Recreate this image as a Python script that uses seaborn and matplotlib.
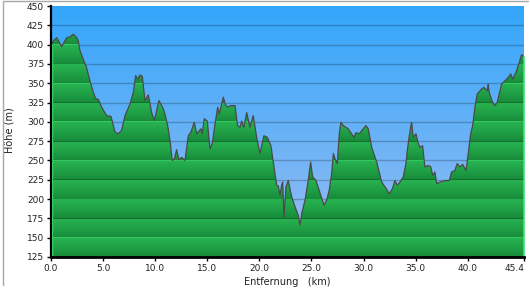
import numpy as np
import matplotlib
matplotlib.use("Agg")
import matplotlib.pyplot as plt
import seaborn as sns
from matplotlib.patches import PathPatch
from matplotlib.lines import Line2D
from matplotlib.colors import to_rgb

# ---- data ----
dist_km = [0.0, 0.3, 0.55, 1.03, 1.5, 1.82, 2.14, 2.46, 2.62, 2.78, 3.1, 3.42, 3.74, 4.06, 4.29,
           4.54, 4.86, 5.34, 5.76, 6.14, 6.46, 6.78, 7.1, 7.58, 7.9, 8.13, 8.32, 8.54, 8.76, 9.02,
           9.34, 9.66, 9.92, 10.14, 10.36, 10.78, 10.94, 11.2, 11.42, 11.64, 11.84, 12.06, 12.28,
           12.54, 12.86, 13.18, 13.44, 13.75, 13.98, 14.14, 14.4, 14.52, 14.71, 15.0, 15.26, 15.48,
           15.74, 16.0, 16.15, 16.38, 16.54, 16.76, 17.02, 17.24, 17.66, 17.91, 18.14, 18.3, 18.52,
           18.78, 19.1, 19.41, 19.74, 20.06, 20.44, 20.76, 21.11, 21.34, 21.66, 21.82, 21.98, 22.14,
           22.24, 22.36, 22.55, 22.77, 23.1, 23.42, 23.73, 23.9, 24.06, 24.38, 24.69, 24.92, 25.11,
           25.43, 25.75, 26.2, 26.45, 26.7, 26.94, 27.1, 27.26, 27.48, 27.67, 27.83, 28.05, 28.31,
           28.53, 28.86, 29.08, 29.27, 29.59, 29.97, 30.23, 30.45, 30.78, 31.26, 31.74, 32.15, 32.47,
           32.79, 33.01, 33.23, 33.5, 33.81, 34.07, 34.2, 34.39, 34.61, 34.77, 35.03, 35.25, 35.41,
           35.67, 35.89, 36.21, 36.44, 36.63, 36.85, 37.02, 37.33, 37.81, 38.23, 38.45, 38.77, 38.99,
           39.25, 39.51, 39.83, 40.05, 40.28, 40.47, 40.69, 40.91, 41.33, 41.55, 41.87, 41.96, 42.06,
           42.39, 42.61, 42.83, 43.25, 43.57, 43.89, 44.12, 44.31, 44.63, 44.95, 45.17, 45.4]
elev_m = [400, 406, 409, 397.5, 409, 410, 413.5, 409, 405, 392, 381, 370, 353, 338, 330,
          329, 319, 308, 307, 287, 284.5, 289, 308, 323, 338, 360, 355, 360.6, 359, 327.5,
          335, 312, 301.7, 314.6, 327.5, 316.8, 310, 295, 276, 250, 252, 264, 251,
          254, 250, 282, 287, 299.5, 284.5, 287, 291, 284.5, 304, 301, 265, 272,
          297, 319, 310, 323, 332, 321, 319, 321, 321, 295, 293, 301, 293,
          312, 293, 308, 280, 259, 282, 280, 269, 248, 218, 217, 205, 218,
          222, 176, 216, 224, 203, 190, 179, 166, 181, 198.5, 224, 248, 229,
          224, 211, 192, 198.5, 211, 233, 259, 252, 246, 284.5, 299.5, 295, 293,
          291, 284.5, 280, 286, 284.5, 291, 295, 291, 267, 248, 222, 214, 207,
          214, 224, 218, 222, 229, 246, 263, 282, 299.5, 280, 284.5, 272, 267,
          269, 241.5, 243.6, 242, 231, 235, 220, 222, 224, 224, 235, 237, 246,
          241.5, 245, 237, 259, 284.5, 295, 319, 336, 342.5, 344.6, 340.4, 349, 338,
          325, 321, 325, 349, 353, 357.5, 362, 355.5, 364, 377, 387, 384]

x_ticks = [0.0, 5.0, 10.0, 15.0, 20.0, 25.0, 30.0, 35.0, 40.0, 45.4]
x_tick_labels = ["0.0", "5.0", "10.0", "15.0", "20.0", "25.0", "30.0", "35.0", "40.0", "45.4"]
y_ticks = list(range(125, 451, 25))
y_tick_labels = [str(v) for v in y_ticks]
x_label = "Entfernung   (km)"
y_label = "Höhe (m)"

sns.set_theme(style="white")
plt.rcParams['font.family'] = ['DejaVu Sans']

W, H = 530, 293
fig = plt.figure(figsize=(W / 100, H / 100), dpi=100)
fig.patch.set_facecolor("white")
left, right, top, bottom = 51, 524, 6, 257
ax = fig.add_axes([left / W, (H - bottom) / H, (right - left) / W, (bottom - top) / H])

xmin, xmax, ymin, ymax = 0.0, 45.4, 125, 450
ax.set_xlim(xmin, xmax)
ax.set_ylim(ymin, ymax)

# sky gradient background
n = 300
c_top = np.array(to_rgb("#33a6fb"))
c_bot = np.array(to_rgb("#9cbef2"))
t = np.linspace(0, 1, n)[:, None]
sky = (c_top * (1 - t) + c_bot * t)[:, None, :]
ax.imshow(sky, extent=[xmin, xmax, ymin, ymax], origin="upper", aspect="auto", zorder=0,
          interpolation="bilinear")

# gridlines (visible over the sky)
for v in y_ticks[1:-1]:
    ax.axhline(v, color="black", alpha=0.22, lw=1.0, zorder=0.5)

# banded green terrain
npx = 1300
vals = np.linspace(ymax, ymin, npx)
rel = (vals - ymin) % 25.0
p = (25.0 - rel) / 25.0
bright = np.array(to_rgb("#27b250"))
dark = np.array(to_rgb("#178a3a"))
w = np.clip(p, 0, 1) ** 1.2
green = bright[None, :] * (1 - w[:, None]) + dark[None, :] * w[:, None]
line_dark = np.array(to_rgb("#126e2e"))
line_light = np.array(to_rgb("#34c860"))
for v in y_ticks[1:-1]:
    idx = np.abs(vals - v) < 0.45
    green[idx] = line_dark if (v % 50 == 25) else line_light
green = green[:, None, :]
img = ax.imshow(green, extent=[xmin, xmax, ymin, ymax], origin="upper", aspect="auto",
                zorder=1, interpolation="nearest")
poly = ax.fill_between(dist_km, elev_m, ymin, facecolor="none", edgecolor="none")
clip = PathPatch(poly.get_paths()[0], transform=ax.transData, facecolor="none", edgecolor="none")
ax.add_patch(clip)
img.set_clip_path(clip)

# profile line
sns.lineplot(x=dist_km, y=elev_m, ax=ax, color="#4a4a4a", linewidth=0.9, zorder=3)

# light green edges at left/right of terrain
ax.plot([xmax, xmax], [ymin, elev_m[-1]], color="#3ee070", lw=1.2, zorder=3, clip_on=False)
ax.plot([xmin + 0.05, xmin + 0.05], [ymin, elev_m[0]], color="#3ee070", lw=1.0, zorder=3)

ax.set_xticks(x_ticks)
ax.set_xticklabels(x_tick_labels)
ax.set_yticks(y_ticks)
ax.set_yticklabels(y_tick_labels)
ax.tick_params(axis="both", direction="out", length=3, width=1, color="black",
               labelsize=6.5, labelcolor="#222222", pad=2, left=True, bottom=True)
xl = ax.get_xticklabels()
xl[-1].set_horizontalalignment("right")
for s in ["top", "right"]:
    ax.spines[s].set_visible(False)
ax.spines["left"].set_color("black")
ax.spines["left"].set_linewidth(1.6)
ax.spines["bottom"].set_color("black")
ax.spines["bottom"].set_linewidth(2.0)
ax.spines["left"].set_zorder(5)
ax.spines["bottom"].set_zorder(5)

ax.set_xlabel(x_label, fontsize=7, color="#222222")
ax.set_ylabel(y_label, fontsize=7, color="#222222")
ax.xaxis.set_label_coords((287 - left) / (right - left), (bottom - 277) / (bottom - top))
ax.yaxis.set_label_coords((15 - left) / (right - left), (bottom - 130) / (bottom - top))

# outer frame (left and top edges)
fig.lines.append(Line2D([2.5 / W, 2.5 / W], [(H - 285) / H, 1 - 0.5 / H],
                        transform=fig.transFigure, color="#a8a8a8", lw=1.0))
fig.lines.append(Line2D([2.5 / W, 528 / W], [1 - 0.5 / H, 1 - 0.5 / H],
                        transform=fig.transFigure, color="#a8a8a8", lw=1.0))

fig.savefig("out.png", dpi=100)
